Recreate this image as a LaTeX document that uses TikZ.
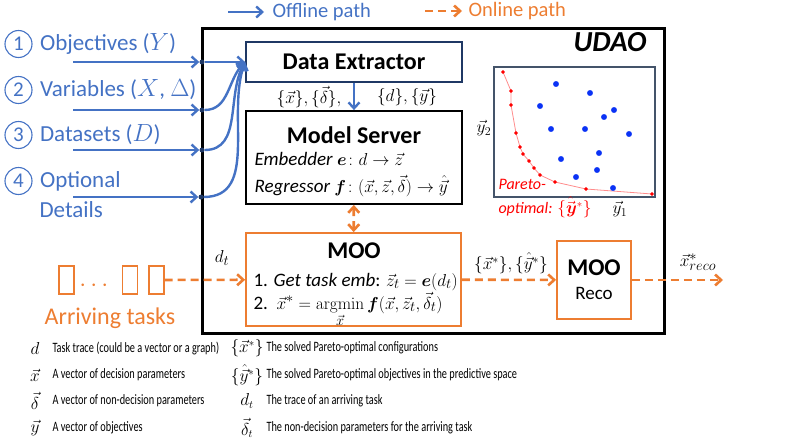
\documentclass[tikz,border=0pt]{standalone}
\usepackage{amsmath}
\usepackage[no-math]{fontspec}
\setmainfont{Carlito}
\newfontfamily\narrowfont[FakeStretch=0.72]{Carlito}
\usetikzlibrary{arrows.meta,positioning}
\definecolor{offblue}{HTML}{4472C4}
\definecolor{onorange}{HTML}{ED7D31}
\definecolor{navy}{HTML}{1F3864}
\definecolor{plotgray}{HTML}{44546A}
\definecolor{ptblue}{HTML}{0A32F5}
\begin{document}
\begin{tikzpicture}[x=1pt, y=-1pt, >={Straight Barb[length=6pt,width=11pt]},
  offline/.style={->, offblue, line width=2.4pt},
  online/.style={->, onorange, line width=2.6pt, dash pattern=on 8pt off 5pt},
  box/.style={draw, line width=1.8pt, minimum width=216pt},
  title/.style={font=\fontsize{24}{28}\selectfont\bfseries},
  body/.style={font=\fontsize{19}{22}\selectfont},
  label/.style={font=\fontsize{17}{20}\selectfont},
  input/.style={offblue, font=\fontsize{23}{27}\selectfont},
  num/.style={circle, draw=offblue, line width=1.1pt, text=offblue, minimum size=27pt, inner sep=0pt, font=\fontsize{21}{24}\selectfont},
  dot/.style={circle, fill=navy, inner sep=0pt, minimum size=5pt},
  task/.style={draw=onorange, line width=1.2pt, minimum width=15pt, minimum height=28pt, inner sep=0pt},
  legend/.style={anchor=west, font=\narrowfont\fontsize{14.3}{17}\selectfont},
  sym/.style={font=\fontsize{16}{18}\selectfont}]

\useasboundingbox (0,0) rectangle (807,442);

\coordinate (off1) at (228,12);
\coordinate (off2) at (264,12);
\draw[offline] (off1) -- (off2);
\node (offtxt) [offblue, anchor=west, font=\fontsize{20.5}{24}\selectfont] at (269,12) {Offline path};
\coordinate (on1) at (425,11);
\coordinate (on2) at (462,11);
\draw[online] (on1) -- (on2);
\node (ontxt) [onorange, anchor=west, font=\fontsize{20.5}{24}\selectfont] at (465,11) {Online path};

\node (udao) [draw, line width=3pt, minimum width=462pt, minimum height=305pt] at (433,180.5) {};
\node (udaotxt) [font=\fontsize{29}{32}\selectfont\bfseries\itshape] at (610,42) {UDAO};

\node (de) [box, draw=navy, minimum height=40pt, title] at (354,62) {Data Extractor};
\node (ms) [box, minimum height=93pt] at (354,157.5) {};
\node (mstxt) [title] at (354,135) {Model Server};
\node (emb) [body, anchor=base west] at (251,165) {\textit{Embedder} $\boldsymbol{e}\colon d\rightarrow\vec{z}$};
\node (reg) [body, anchor=base west] at (251,192) {\textit{Regressor} $\boldsymbol{f}\colon(\vec{x},\vec{z},\vec{\delta})\rightarrow\hat{\vec{y}}$};
\node (moo) [box, draw=onorange, minimum width=215pt, minimum height=93pt] at (353.5,279.5) {};
\node (mootxt) [title] at (354,251) {MOO};
\node (step1) [body, anchor=base west] at (250,286) {1. \textit{Get task emb}: $\vec{z}_t=\boldsymbol{e}(d_t)$};
\node (step2) [body, anchor=base west] at (250,309) {2.\ \ $\vec{x}^*=\mathop{\mathrm{argmin}}\limits_{\vec{x}}\boldsymbol{f}(\vec{x},\vec{z}_t,\vec{\delta}_t)$};
\node (reco) [draw=onorange, line width=1.8pt, minimum width=74pt, minimum height=78pt, align=center] at (594,280) {{\fontsize{24}{28}\selectfont\bfseries MOO}\\[11pt]{\fontsize{19}{22}\selectfont Reco}};

\node (xd) [label] at (309,97) {$\{\vec{x}\},\{\vec{\delta}\},$};
\node (dy) [label] at (407,97) {$\{d\},\{\vec{y}\}$};
\draw[offline] (de) -- (ms);
\draw[online, <->] (ms) -- (moo);

\node (t1) [task] at (66.5,280) {};
\node (tdots) [onorange, font=\fontsize{24}{28}\selectfont] at (96,286) {$\cdots$};
\node (t2) [task] at (130,280) {};
\node (t3) [task] at (156.5,280) {};
\node (arrive) [onorange, font=\fontsize{24}{28}\selectfont] at (110,318) {Arriving tasks};
\node (dt) [body] at (222,258) {$d_t$};
\draw[online] (t3) -- (moo);
\node (sol) [label] at (511,263) {$\{\vec{x}^*\},\{\hat{\vec{y}}^*\}$};
\draw[online] (moo) -- (reco);
\coordinate (out) at (723,280);
\node (xreco) [body] at (698,262) {$\vec{x}^*_{reco}$};
\draw[online] (reco) -- (out);

\node (c1) [num] at (18.5,44) {1};
\node (in1) [input, right=4pt of c1] {Objectives ($Y$)};
\node (c2) [num] at (18.5,90) {2};
\node (in2) [input, right=4pt of c2] {Variables ($X$, $\Delta$)};
\node (c3) [num] at (18.5,135) {3};
\node (in3) [input, right=4pt of c3] {Datasets ($D$)};
\node (c4) [num] at (18.5,181) {4};
\node (in4) [input, right=4pt of c4] {Optional};
\node (in4b) [input, anchor=west] at (36,210) {Details};

\coordinate (s1) at (73,62);
\coordinate (s2) at (73,110);
\coordinate (s3) at (73,150);
\coordinate (s4) at (73,197);
\node (p1) [dot] at (202,62) {};
\node (p2) [dot] at (202,110) {};
\node (p3) [dot] at (202,150) {};
\node (p4) [dot] at (201,197) {};
\draw[offline] (s1) -- (p1);
\draw[offline] (s2) -- (p2);
\draw[offline] (s3) -- (p3);
\draw[offline] (s4) -- (p4);
\draw[offline] (p1) -- (de);
\draw[offline] (p2) to[out=0, in=225] (de.west);
\draw[offline] (p3) to[out=0, in=240] (de.west);
\draw[offline] (p4) to[out=0, in=250] (de.west);

\node (plot) [draw=plotgray, line width=1.2pt, minimum width=161pt, minimum height=130pt, inner sep=0pt] at (574.5,132) {};
\draw[red!45, line width=0.8pt] plot coordinates {(503,72) (511,91) (511,105) (516,133) (520,147) (523,154) (529,161) (534,168) (540,175) (555,182) (586,189) (652,194)};
\draw plot[only marks, mark=*, mark size=1.6pt, mark options={red, fill=red}] coordinates {(503,72) (511,91) (511,105) (516,133) (520,147) (523,154) (529,161) (534,168) (540,175) (555,182) (586,189) (652,194)};
\draw plot[only marks, mark=*, mark size=2.7pt, mark options={ptblue, fill=ptblue}] coordinates {(556,84) (590,93) (540,106) (614,110) (604,117) (551,129) (585,129) (629,134) (599,153) (561,159) (597,170) (576,177) (613,188)};
\node (y2) [label] at (484,128) {$\vec{y}_2$};
\node (y1) [label] at (620,209) {$\vec{y}_1$};
\node (pareto) [red, align=left, anchor=north west, font=\fontsize{16}{24}\selectfont\itshape] at (495,176) {Pareto-\\optimal: $\{\hat{\vec{\boldsymbol{y}}}^*\}$};

\node (ld) [sym] at (35,348) {$d$};
\node (ldtxt) [legend] at (49,348) {Task trace (could be a vector or a graph)};
\node (lx) [sym] at (35,375) {$\vec{x}$};
\node (lxtxt) [legend] at (49,375) {A vector of decision parameters};
\node (ldelta) [sym] at (35,401) {$\vec{\delta}$};
\node (ldeltatxt) [legend] at (49,401) {A vector of non-decision parameters};
\node (ly) [sym] at (35,428) {$\vec{y}$};
\node (lytxt) [legend] at (49,428) {A vector of objectives};
\node (lxs) [sym] at (247,348) {$\{\vec{x}^*\}$};
\node (lxstxt) [legend] at (263,348) {The solved Pareto-optimal configurations};
\node (lys) [sym] at (247,375) {$\{\hat{\vec{y}}^*\}$};
\node (lystxt) [legend] at (263,375) {The solved Pareto-optimal objectives in the predictive space};
\node (ldt) [sym] at (247,401) {$d_t$};
\node (ldttxt) [legend] at (263,401) {The trace of an arriving task};
\node (ldeltat) [sym] at (247,428) {$\vec{\delta}_t$};
\node (ldeltattxt) [legend] at (263,428) {The non-decision parameters for the arriving task};
\end{tikzpicture}
\end{document}
